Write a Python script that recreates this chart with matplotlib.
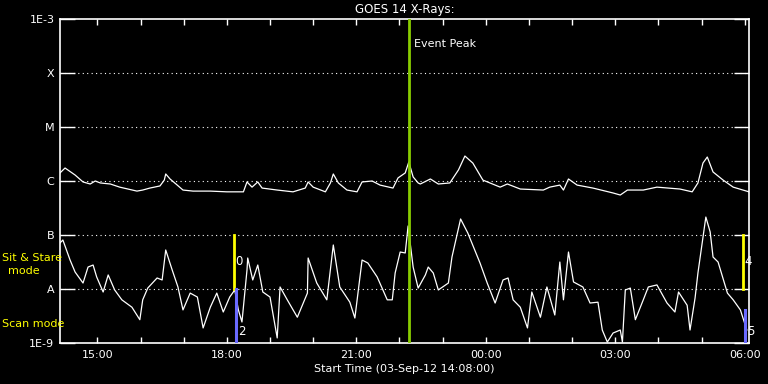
# GOES 14 X-ray flux plot (IDL style, black background)
import matplotlib
matplotlib.use("Agg")
import matplotlib.pyplot as plt

START_MIN = 14 * 60 + 8      # 14:08 start
END_MIN = 958                # minutes after start (~06:06)
EVENT_PEAK = 485             # minutes after start

# long channel (1-8 A), minutes after start / flux W m^-2
t_long = [0, 7, 21, 32, 42, 49, 56, 70, 83, 107, 115, 125, 139, 145, 147, 153,
          163, 171, 185, 209, 232, 255, 260, 267, 275, 281, 302, 324, 341, 345,
          352, 369, 376, 380, 387, 399, 413, 420, 434, 445, 463, 470, 480, 485,
          491, 498, 501, 515, 526, 542, 554, 563, 574, 588, 612, 622, 640, 672,
          681, 695, 700, 707, 719, 741, 769, 779, 789, 811, 830, 862, 879, 887,
          894, 900, 908, 922, 936, 958]
f_long = [1.41, 1.74, 1.29, 0.96, 0.88, 1.0, 0.92, 0.88, 0.77, 0.65, 0.68, 0.74,
          0.81, 1.04, 1.35, 1.09, 0.84, 0.68, 0.65, 0.65, 0.63, 0.63, 0.96, 0.77,
          0.96, 0.74, 0.68, 0.63, 0.74, 0.96, 0.77, 0.63, 0.92, 1.35, 0.92, 0.68,
          0.63, 0.96, 1.0, 0.84, 0.74, 1.14, 1.41, 2.25, 1.19, 0.92, 0.88, 1.09,
          0.88, 0.92, 1.60, 2.90, 2.15, 1.04, 0.77, 0.88, 0.71, 0.68, 0.77, 0.84,
          0.68, 1.09, 0.84, 0.74, 0.60, 0.55, 0.68, 0.68, 0.77, 0.71, 0.63, 0.92,
          2.15, 2.78, 1.47, 1.04, 0.77, 0.63]
f_long = [v * 1e-6 for v in f_long]

# short channel (0.5-4 A)
t_short = [0, 4, 14, 21, 32, 39, 46, 51, 60, 67, 76, 86, 100, 111, 115, 122,
           135, 142, 147, 156, 164, 171, 181, 191, 199, 209, 218, 227, 236, 243,
           248, 253, 260, 261, 268, 275, 282, 292, 302, 306, 316, 330, 344, 345,
           357, 371, 380, 389, 403, 410, 420, 428, 441, 455, 462, 466, 473, 480,
           484, 491, 498, 508, 512, 519, 526, 540, 545, 557, 567, 584, 594, 605,
           616, 623, 630, 640, 650, 656, 668, 677, 688, 695, 700, 707, 714, 727,
           737, 748, 754, 761, 769, 779, 782, 786, 793, 800, 811, 818, 830, 844,
           855, 860, 872, 876, 883, 887, 898, 904, 908, 915, 928, 936, 946, 955]
f_short = [7.11, 8.08, 3.44, 2.06, 1.29, 2.55, 2.78, 1.67, 0.88, 1.82, 0.96, 0.63,
           0.46, 0.27, 0.63, 1.04, 1.60, 1.47, 5.28, 2.25, 1.09, 0.41, 0.84, 0.71,
           0.19, 0.46, 0.84, 0.375, 0.71, 0.96, 0.41, 0.245, 2.25, 3.75, 1.47, 2.78,
           0.88, 0.71, 0.124, 1.09, 0.63, 0.30, 0.84, 3.75, 1.29, 0.63, 6.53, 1.09,
           0.57, 0.29, 3.44, 3.03, 1.67, 0.63, 0.63, 1.98, 4.84, 4.65, 14.7, 2.55,
           1.04, 1.82, 2.55, 1.98, 0.96, 1.29, 3.91, 19.8, 10.9, 3.03, 1.29, 0.55,
           1.47, 1.60, 0.63, 0.46, 0.19, 0.88, 0.30, 1.09, 0.33, 3.16, 0.63, 4.84,
           1.35, 1.09, 0.55, 0.57, 0.174, 0.104, 0.153, 0.174, 0.104, 0.96, 1.04,
           0.27, 0.63, 1.09, 1.19, 0.55, 0.375, 0.88, 0.50, 0.174, 0.68, 1.98, 21.5,
           11.4, 3.91, 3.16, 0.84, 0.63, 0.41, 0.174]
f_short = [v * 1e-8 for v in f_short]

# instrument mode markers: (time, label)
sit_stare = [(242, "0"), (950, "4")]
scan = [(245, "2", 1e-8), (953, "5", 4e-9)]

levels = [1e-3, 1e-4, 1e-5, 1e-6, 1e-7, 1e-8, 1e-9]
level_labels = ["1E-3", "X", "M", "C", "B", "A", "1E-9"]
hour_labels = ["15:00", "18:00", "21:00", "00:00", "03:00", "06:00"]

fig = plt.figure(figsize=(7.68, 3.84), dpi=100, facecolor="black")
ax = fig.add_axes([60 / 768, 41 / 384, 689 / 768, 324 / 384], facecolor="black")
ax.set_yscale("log")
ax.set_ylim(1e-9, 1e-3)
ax.set_xlim(0, END_MIN)

for lv in levels[1:-1]:
    ax.axhline(lv, color="white", ls=(0, (1, 3)), lw=0.8, zorder=1)

ax.plot(t_long, f_long, color="white", lw=0.9, zorder=3)
ax.plot(t_short, f_short, color="white", lw=0.9, zorder=3)

ax.axvline(EVENT_PEAK, color="#88cc00", lw=2.0, zorder=4)
ax.text(EVENT_PEAK + 7, 3.5e-4, "Event Peak", color="white", fontsize=8,
        va="center", ha="left")

for t, lab in sit_stare:
    ax.plot([t, t], [1e-8, 1e-7], color="#ffff00", lw=2.0, zorder=5)
    ax.text(t + 2, 3.2e-8, lab, color="white", fontsize=8.5, va="center", ha="left", zorder=6)
for t, lab, top in scan:
    ax.plot([t, t], [1e-9, top], color="#6a6aff", lw=2.2, zorder=5)
    ax.text(t + 2, 1.6e-9, lab, color="white", fontsize=8.5, va="center", ha="left", zorder=6)

ax.set_yticks(levels)
ax.set_yticklabels(level_labels)
ax.minorticks_off()
hours = list(range(15, 31))
ax.set_xticks([h * 60 - START_MIN for h in hours])
ax.set_xticklabels([hour_labels[(h - 15) // 3] if (h - 15) % 3 == 0 else "" for h in hours])

ax.tick_params(axis="y", which="major", direction="in", length=11, width=1,
               color="white", labelcolor="white", labelsize=8, right=True, pad=4)
ax.tick_params(axis="x", which="major", direction="in", length=4.5, width=1,
               color="white", labelcolor="white", labelsize=8, top=True, pad=5)
for sp in ax.spines.values():
    sp.set_color("white")
    sp.set_linewidth(1.2)

ax.set_title("GOES 14 X-Rays:", color="white", fontsize=8.5, pad=4)
ax.set_xlabel("Start Time (03-Sep-12 14:08:00)", color="white", fontsize=8, labelpad=3)

fig.text(2 / 768, 1 - 258 / 384, "Sit & Stare", color="#ffff00", fontsize=8,
         ha="left", va="center")
fig.text(24 / 768, 1 - 271 / 384, "mode", color="#ffff00", fontsize=8,
         ha="center", va="center")
fig.text(2 / 768, 1 - 324 / 384, "Scan mode", color="#ffff00", fontsize=8,
         ha="left", va="center")

fig.savefig("out.png", dpi=100, facecolor="black")
